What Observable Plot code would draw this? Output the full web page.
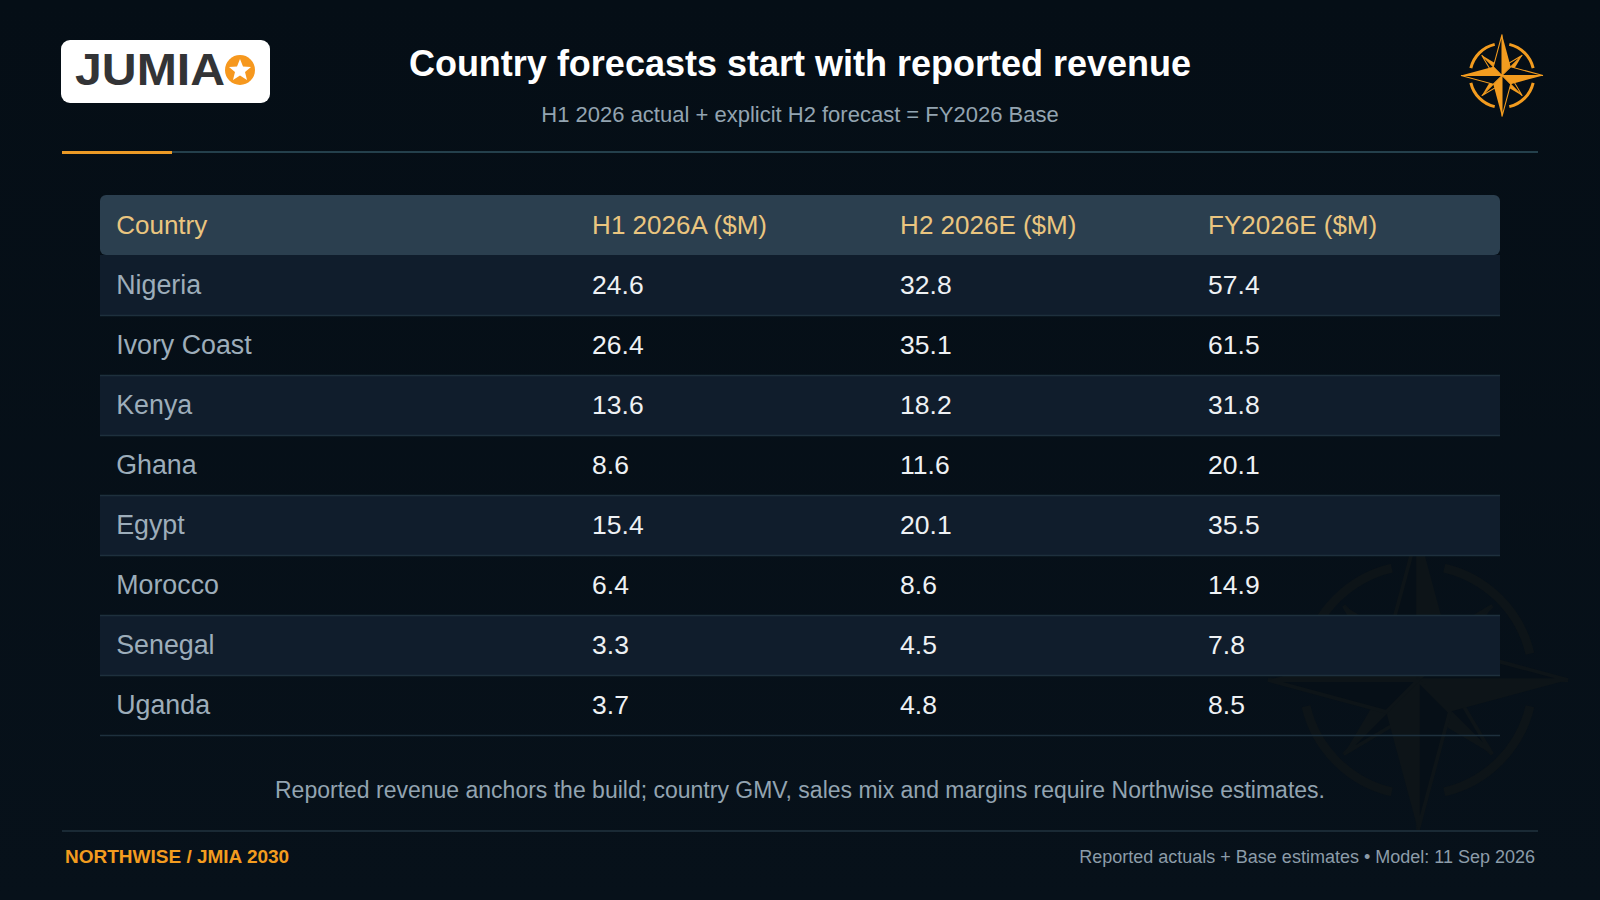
<!DOCTYPE html>
<html><head><meta charset="utf-8">
<script src="https://cdn.jsdelivr.net/npm/d3@7"></script>
<script src="https://cdn.jsdelivr.net/npm/@observablehq/plot@0.6"></script>
<style>
html,body{margin:0;padding:0;width:1600px;height:900px;overflow:hidden;background:linear-gradient(180deg,#050e16,#07111a);font-family:"Liberation Sans",Arial,sans-serif}
.abs{position:absolute;white-space:nowrap}
#title{left:0;width:1600px;text-align:center;top:43px;font-size:36px;line-height:42px;font-weight:700;color:#fff}
#sub{left:0;width:1600px;text-align:center;top:101px;font-size:22px;line-height:28px;color:#93a4b1}
#note{left:0;width:1600px;text-align:center;top:775px;font-size:23px;line-height:30px;color:#93a4b1}
#fl{left:65px;top:845px;font-size:19px;line-height:24px;font-weight:700;color:#f39c1f}
#fr{right:65px;top:845px;font-size:18px;line-height:24px;color:#8c9ca9}
.line{height:2px}
#chart{position:absolute;left:0;top:160px}
</style></head><body>
<svg class="abs" id="wm" style="left:0;top:0" width="1600" height="900"></svg>
<svg class="abs" id="logo" style="left:61px;top:40px" width="209" height="63" viewBox="0 0 209 63">
<rect width="209" height="63" rx="9" fill="#fff"/>
<text x="14" y="45" font-family="Liberation Sans" font-weight="700" font-size="43.5" fill="#333436" textLength="150" lengthAdjust="spacingAndGlyphs">JUMIA</text>
<circle cx="179" cy="30" r="15" fill="#f6981e"/>
<polygon fill="#fff" points="179,19 182,26.5 190,27 184,32 186,40 179,35.6 172,40 174,32 168,27 176,26.5"/>
</svg>
<svg class="abs" id="compass" style="left:1452px;top:26px" width="100" height="100"></svg>
<div class="abs" id="title">Country forecasts start with reported revenue</div>
<div class="abs" id="sub">H1 2026 actual + explicit H2 forecast = FY2026 Base</div>
<div class="abs line" style="left:62px;top:151px;width:1476px;background:#24404c"></div>
<div class="abs" style="left:62px;top:151px;width:110px;height:3px;background:#eb9a26"></div>
<div id="chart"></div>
<div class="abs" id="note">Reported revenue anchors the build; country GMV, sales mix and margins require Northwise estimates.</div>
<div class="abs line" style="left:62px;top:830px;width:1476px;background:#1a2a35"></div>
<div class="abs" id="fl">NORTHWISE / JMIA 2030</div>
<div class="abs" id="fr">Reported actuals + Base estimates • Model: 11 Sep 2026</div>
<script>
const columns = ["Country", "H1 2026A ($M)", "H2 2026E ($M)", "FY2026E ($M)"];
const countries = ["Nigeria", "Ivory Coast", "Kenya", "Ghana", "Egypt", "Morocco", "Senegal", "Uganda"];
const h1 = [24.6, 26.4, 13.6, 8.6, 15.4, 6.4, 3.3, 3.7];
const h2 = [32.8, 35.1, 18.2, 11.6, 20.1, 8.6, 4.5, 4.8];
const fy = [57.4, 61.5, 31.8, 20.1, 35.5, 14.9, 7.8, 8.5];

const HEAD = "__head";
const rowsY = [HEAD, ...countries];
const bands = countries.filter((_, i) => i % 2 === 0);
const cells = countries.flatMap((c, i) => [
  {row: c, col: columns[1], text: h1[i].toFixed(1)},
  {row: c, col: columns[2], text: h2[i].toFixed(1)},
  {row: c, col: columns[3], text: fy[i].toFixed(1)}
]);
const txt = {fontFamily: "Liberation Sans, Arial, sans-serif", textAnchor: "start"};

const plot = Plot.plot({
  width: 1600, height: 590, margin: 0,
  style: {background: "transparent", overflow: "visible"},
  x: {type: "ordinal", domain: ["L", ...columns, "R"], range: [100, 115.7, 591.6, 899.6, 1207.6, 1500], axis: null},
  y: {type: "band", domain: rowsY, range: [35, 575], padding: 0, axis: null},
  marks: [
    Plot.barX([HEAD], {y: d => d, x1: () => "L", x2: () => "R", fill: "#2b3f4f", rx: 6}),
    Plot.barX(bands, {y: d => d, x1: () => "L", x2: () => "R", fill: "#101d2c"}),
    Plot.ruleY(countries, {y: d => d, x1: () => "L", x2: () => "R", dy: 30, stroke: "#1e303d", strokeWidth: 1.5}),
    Plot.text(columns, {x: d => d, y: () => HEAD, text: d => d, fill: "#eac57f", fontSize: 26, ...txt}),
    Plot.text(countries, {x: () => columns[0], y: d => d, text: d => d, fill: "#9dadba", fontSize: 26.8, ...txt}),
    Plot.text(cells, {x: "col", y: "row", text: "text", fill: "#eef1f4", fontSize: 26.5, ...txt})
  ]
});
document.getElementById("chart").append(plot);

// decorative compass, not data
function compass(cx, cy, R, r, ringW, color, holeColor) {
  const p = (a, d) => [cx + d * Math.sin(a), cy - d * Math.cos(a)];
  const pts = a => a.map(q => q.join(",")).join(" ");
  let s = "";
  const arc = (a0, a1) => {
    const [x0, y0] = p(a0, r), [x1, y1] = p(a1, r);
    return `<path d="M${x0} ${y0}A${r} ${r} 0 0 1 ${x1} ${y1}" fill="none" stroke="${color}" stroke-width="${ringW}"/>`;
  };
  const g = 0.23;
  for (let k = 0; k < 4; k++) s += arc(k * Math.PI / 2 + g, (k + 1) * Math.PI / 2 - g);
  const point = (a, len, w) => {
    const tip = p(a, len), c = [cx, cy];
    const right = p(a + Math.PI / 4, w), left = p(a - Math.PI / 4, w);
    s += `<polygon points="${pts([tip, left, c])}" fill="${holeColor}" stroke="${color}" stroke-width="${R * 0.025}"/>`;
    s += `<polygon points="${pts([tip, right, c])}" fill="${color}"/>`;
  };
  for (let k = 0; k < 4; k++) point(Math.PI / 4 + k * Math.PI / 2, R * 0.7, R * 0.2);
  for (let k = 0; k < 4; k++) point(k * Math.PI / 2, R, R * 0.3);
  return s;
}
document.getElementById("compass").innerHTML = compass(50, 49.5, 41, 32, 3, "#f39c1f", "#050e16");
document.getElementById("wm").innerHTML = compass(1418, 680, 150, 115, 9, "#0d1418", "#060f17");
</script>
</body></html>
